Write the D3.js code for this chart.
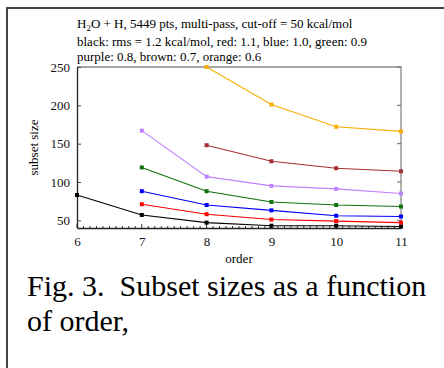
<!DOCTYPE html>
<html><head><meta charset="utf-8">
<script src="https://cdn.jsdelivr.net/npm/d3@7"></script>
<style>body{margin:0;background:#fff}svg{display:block}</style>
</head><body>
<script>
const orders = [6,7,8,9,10,11];
const black  = [83,57,47,43,43,42];
const red    = [null,71,58,51,49,47];
const blue   = [null,88,70,63,56,55];
const green  = [null,119,88,74,70,68];
const purple = [null,167,107,95,91,85];
const brown  = [null,null,148,127,118,114];
const orange = [null,null,250,201,172,166];
const yTicks = [50,100,150,200,250];
const titleLines = ["black: rms = 1.2 kcal/mol, red: 1.1, blue: 1.0, green: 0.9","purple: 0.8, brown: 0.7, orange: 0.6"];
const series = [
  {name:"black", values:black, color:"#000000"},
  {name:"red", values:red, color:"#ff0000"},
  {name:"blue", values:blue, color:"#0000ff"},
  {name:"green", values:green, color:"#107010"},
  {name:"purple", values:purple, color:"#c080ff"},
  {name:"brown", values:brown, color:"#a83030"},
  {name:"orange", values:orange, color:"#f5b000"}
];

const FONT="'Liberation Serif','DejaVu Serif','Noto Serif',serif";
const W=444,H=368;
const svg=d3.select("body").append("svg").attr("width",W).attr("height",H).attr("font-family",FONT);
const L=77,R=401,T=67,B=228;
const x=d3.scaleLinear().domain([6,11]).range([L,R]);
const y=d3.scaleLinear().domain([40,250]).range([B,T]);

// outer frame
svg.append("path").attr("d",`M7,${H}V8H${W}`).attr("fill","none").attr("stroke","#444").attr("stroke-width",2);

// title
const t1=svg.append("text").attr("x",77).attr("y",28).attr("font-size",13).attr("font-family",FONT);
t1.append("tspan").text("H");
t1.append("tspan").attr("font-size",9).attr("dy",3).text("2");
t1.append("tspan").attr("dy",-3).text("O + H, 5449 pts, multi-pass, cut-off = 50 kcal/mol");
titleLines.forEach((s,i)=>svg.append("text").attr("x",77).attr("y",46+i*15).attr("font-size",13).attr("font-family",FONT).text(s));

// plot border (gray top/right)
svg.append("path").attr("d",`M${L},${T}H${R}V${B}`).attr("fill","none").attr("stroke","#888").attr("stroke-width",1.3);

// minor x ticks
const minor=d3.range(60,111).map(d=>d/10);
svg.append("g").selectAll("line").data(minor).join("line")
  .attr("x1",d=>x(d)).attr("x2",d=>x(d)).attr("y1",B).attr("y2",d=>Math.abs(d-Math.round(d))<1e-6?B-4:B-2)
  .attr("stroke","#333").attr("stroke-width",1);

// y ticks right side
svg.append("g").selectAll("line").data(yTicks).join("line")
  .attr("x1",R).attr("x2",R-4).attr("y1",d=>y(d)).attr("y2",d=>y(d)).attr("stroke","#666");

// axes
const xAxis=d3.axisBottom(x).tickValues(orders).tickSize(0).tickPadding(9).tickFormat(d3.format("d"));
const gx=svg.append("g").attr("transform",`translate(0,${B})`).call(xAxis).attr("font-family",FONT);
gx.select(".domain").attr("stroke","#222").attr("stroke-width",1.5);
gx.selectAll("text").attr("font-size",13).attr("fill","#111");

const yAxis=d3.axisLeft(y).tickValues(yTicks).tickSizeInner(-4).tickSizeOuter(0).tickPadding(7);
const gy=svg.append("g").attr("transform",`translate(${L},0)`).call(yAxis).attr("font-family",FONT);
gy.select(".domain").attr("stroke","#222").attr("stroke-width",1.3);
gy.selectAll("line").attr("stroke","#444");
gy.selectAll("text").attr("font-size",13).attr("fill","#111");

svg.append("text").attr("transform",`translate(38,${(T+B)/2}) rotate(-90)`).attr("text-anchor","middle").attr("font-size",13).text("subset size");
svg.append("text").attr("x",(L+R)/2).attr("y",263).attr("text-anchor","middle").attr("font-size",13).text("order");

// series
const line=d3.line().defined(d=>d.v!=null).x(d=>x(d.o)).y(d=>y(d.v));
series.forEach(s=>{
  const pts=orders.map((o,i)=>({o,v:s.values[i]}));
  svg.append("path").datum(pts).attr("d",line).attr("fill","none").attr("stroke",s.color).attr("stroke-width",1.1);
  svg.append("g").selectAll("rect").data(pts.filter(d=>d.v!=null)).join("rect")
    .attr("x",d=>x(d.o)-2).attr("y",d=>y(d.v)-2).attr("width",4).attr("height",4).attr("fill",s.color);
});

// caption
svg.append("text").attr("x",27).attr("y",296).attr("font-size",30).text("Fig. 3.\u00a0 Subset sizes as a function");
svg.append("text").attr("x",27).attr("y",331).attr("font-size",30).text("of order,");
</script>
</body></html>
